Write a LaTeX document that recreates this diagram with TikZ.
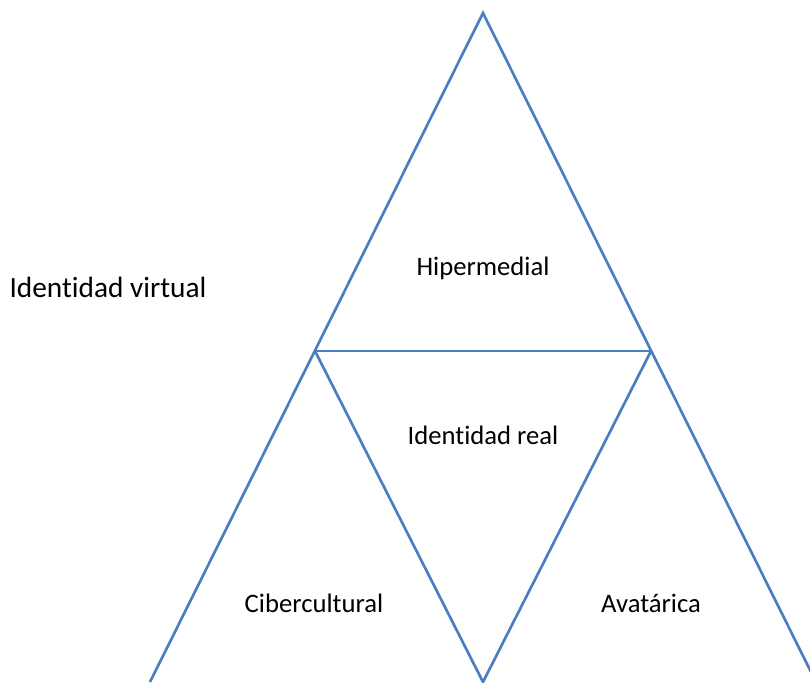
\documentclass[tikz,border=0pt]{standalone}
\usepackage{fontspec}
\setmainfont{Carlito}[Ligatures=NoCommon]
\usetikzlibrary{positioning}
\definecolor{edgeblue}{RGB}{74,126,193}
\tikzset{
  side/.style={edgeblue,line width=2pt,line join=miter},
  part/.style={inner sep=0pt,font=\fontsize{20}{24}\selectfont},
  title/.style={inner sep=0pt,font=\fontsize{22}{26}\selectfont}
}

\begin{document}
\begin{tikzpicture}[x=0.75pt,y=-0.75pt]
  \useasboundingbox (0,0) rectangle (810,682);
  \coordinate (top) at (483,13);
  \coordinate (ml) at (315,351);
  \coordinate (mr) at (651,351);
  \coordinate (bl) at (150,682);
  \coordinate (bm) at (483,682);
  \coordinate (br) at (816,682);
  \begin{scope}
    \clip (0,0) rectangle (810,682);
    \draw[side] (bl) -- (top) -- (br);
    \draw[side] (ml) -- (mr);
    \draw[side] (ml) -- (bm) -- (mr);
  \end{scope}
  \node (virtual) [title] at (108,287) {Identidad virtual};
  \node (hiper) [part] at (483,268) {Hipermedial};
  \node (real) [part] at (483,435) {Identidad real};
  \node (ciber) [part] at (314,603) {Cibercultural};
  \node (avatar) [part] at (651,603) {Avatárica};
\end{tikzpicture}
\end{document}
